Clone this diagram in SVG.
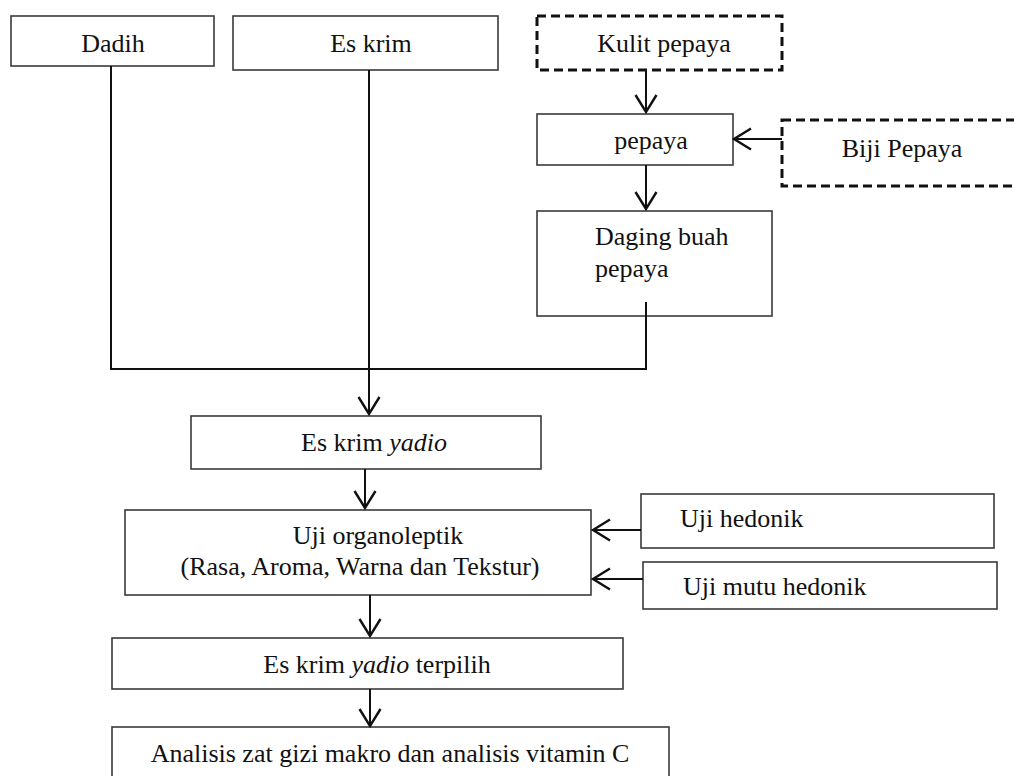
<svg xmlns="http://www.w3.org/2000/svg" width="1014" height="776" viewBox="0 0 1014 776">
<style>
.box{fill:#fff;stroke:#3a3a3a;stroke-width:1.6}
.dash{fill:#fff;stroke:#111;stroke-width:3;stroke-dasharray:9 5}
.t{font-family:'Liberation Serif','Times New Roman',Tinos,'DejaVu Serif','Noto Serif',serif;font-size:26px;fill:#111}
.c{text-anchor:middle}
.ln{fill:none;stroke:#111;stroke-width:2}
.ar{fill:none;stroke:#111;stroke-width:2;marker-end:url(#v)}
</style>
<defs>
<marker id="v" markerUnits="userSpaceOnUse" markerWidth="40" markerHeight="40" viewBox="-20 -20 40 40" refX="0" refY="0" orient="auto" overflow="visible">
<path d="M-17,-10.5 L0,0 L-17,10.5" fill="none" stroke="#111" stroke-width="2.4"/>
</marker>
</defs>
<rect width="1014" height="776" fill="#fff"/>
<g id="dadih"><rect class="box" x="11" y="16" width="203" height="50"/><text class="t c" x="113" y="52" font-family="Liberation Serif, serif">Dadih</text></g>
<g id="es-krim"><rect class="box" x="233" y="16" width="265" height="54"/><text class="t c" x="371" y="52" font-family="Liberation Serif, serif">Es krim</text></g>
<g id="kulit-pepaya"><rect class="dash" x="537" y="16" width="245" height="54"/><text class="t c" x="664" y="52" font-family="Liberation Serif, serif">Kulit pepaya</text></g>
<g id="pepaya"><rect class="box" x="537" y="114" width="196" height="51"/><text class="t c" x="651" y="149" font-family="Liberation Serif, serif">pepaya</text></g>
<g id="biji-pepaya"><rect class="dash" x="782" y="120" width="250" height="66"/><text class="t c" x="902" y="157" font-family="Liberation Serif, serif">Biji Pepaya</text></g>
<g id="daging-buah"><rect class="box" x="537" y="211" width="235" height="105"/><text class="t" x="595" y="245" font-family="Liberation Serif, serif">Daging buah</text><text class="t" x="595" y="277" font-family="Liberation Serif, serif">pepaya</text></g>
<g id="es-krim-yadio"><rect class="box" x="191" y="416" width="350" height="53"/><text class="t c" x="374" y="451" font-family="Liberation Serif, serif">Es krim <tspan font-style="italic">yadio</tspan></text></g>
<g id="uji-organoleptik"><rect class="box" x="125" y="510" width="466" height="85"/><text class="t c" x="378" y="544" font-family="Liberation Serif, serif">Uji organoleptik</text><text class="t c" x="360" y="575" font-family="Liberation Serif, serif">(Rasa, Aroma, Warna dan Tekstur)</text></g>
<g id="uji-hedonik"><rect class="box" x="641" y="494" width="353" height="54"/><text class="t" x="680" y="527" font-family="Liberation Serif, serif">Uji hedonik</text></g>
<g id="uji-mutu-hedonik"><rect class="box" x="643" y="562" width="354" height="47"/><text class="t" x="683" y="595" font-family="Liberation Serif, serif">Uji mutu hedonik</text></g>
<g id="terpilih"><rect class="box" x="112" y="638" width="511" height="51"/><text class="t c" x="377" y="673" font-family="Liberation Serif, serif">Es krim <tspan font-style="italic">yadio</tspan> terpilih</text></g>
<g id="analisis"><rect class="box" x="112" y="727" width="557" height="60"/><text class="t c" x="390" y="762" font-family="Liberation Serif, serif">Analisis zat gizi makro dan analisis vitamin C</text></g>
<g id="connectors">
<path class="ln" d="M111,66 V369 H646 V302"/>
<path class="ar" d="M369,70 V414"/>
<path class="ar" d="M646,71 V112"/>
<path class="ar" d="M782,139 H734"/>
<path class="ar" d="M646,165 V209"/>
<path class="ar" d="M365,469 V508"/>
<path class="ar" d="M641,530 H593"/>
<path class="ar" d="M643,579 H593"/>
<path class="ar" d="M370,595 V636"/>
<path class="ar" d="M370,689 V726"/>
</g>
</svg>
